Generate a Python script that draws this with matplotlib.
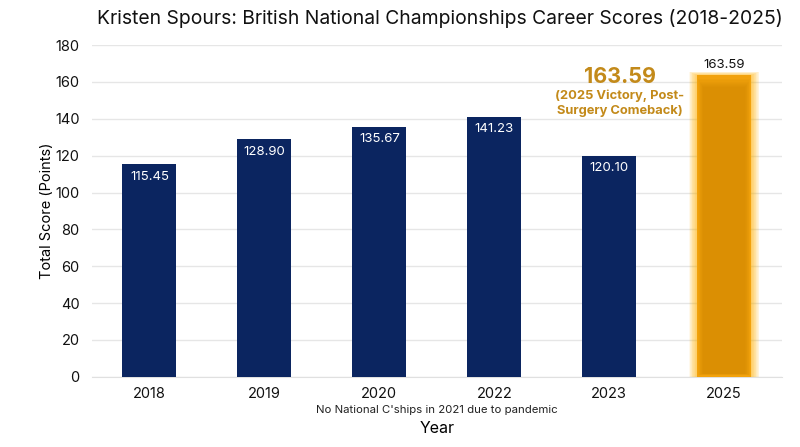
import numpy as np
import matplotlib.pyplot as plt

plt.rcParams['font.family'] = ['Inter', 'DejaVu Sans']

# data
years = ["2018", "2019", "2020", "2022", "2023", "2025"]
scores = [115.45, 128.90, 135.67, 141.23, 120.10, 163.59]
highlight_idx = 5

navy = "#0b2560"
gold = "#f2a20c"
gold_dark = "#cc8500"
gold_text = "#c38a1a"

fig = plt.figure(figsize=(8, 4.47), dpi=100)
ax = fig.add_axes([0.115, 0.157, 0.862, 0.742])

x = np.arange(len(years))
width = 0.47

# regular bars
for i, (xi, s) in enumerate(zip(x, scores)):
    if i == highlight_idx:
        continue
    ax.bar(xi, s, width=width, color=navy, zorder=3)
    ax.text(xi, s - 3.5, f"{s:.2f}", ha="center", va="top", color="white",
            fontsize=9.5, zorder=4)

# highlighted bar with soft glow
hx, hs = x[highlight_idx], scores[highlight_idx]
for k in np.linspace(0.14, 0.01, 12):
    ax.bar(hx, hs + k * 14, width=width + k, color="#ffb300",
           alpha=0.07, zorder=2, linewidth=0)
ax.bar(hx, hs, width=width, color=gold, zorder=3)
for k in np.linspace(0.02, 0.1, 8):
    ax.bar(hx, hs - 2 - k * 60, bottom=1 + k * 5, width=width - k,
           color=gold_dark, alpha=0.09, zorder=3, linewidth=0)
ax.text(hx, hs + 2.5, f"{hs:.2f}", ha="center", va="bottom", color="#111111",
        fontsize=9.5, zorder=4)

# annotation
ax.text(4.09, 162.5, f"{hs:.2f}", ha="center", va="center", color=gold_text,
        fontsize=15.5, fontweight="bold")
ax.text(4.09, 148.3, "(2025 Victory, Post-\nSurgery Comeback)", ha="center",
        va="center", color=gold_text, fontsize=9.3, fontweight="bold",
        linespacing=1.35)

ax.set_xlim(-0.5, 5.5)
ax.set_ylim(0, 180)
ax.set_yticks(np.arange(0, 181, 20))
ax.set_xticks(x)
ax.set_xticklabels(years)
ax.tick_params(axis="both", length=0, labelsize=10.5, colors="#111111")
ax.tick_params(axis="y", pad=9)
ax.tick_params(axis="x", pad=7)
ax.grid(axis="y", color="#e6e6e6", linewidth=1, zorder=0)
ax.set_axisbelow(True)
for sp in ["top", "right", "left"]:
    ax.spines[sp].set_visible(False)
ax.spines["bottom"].set_color("#e0e0e0")

ax.set_ylabel("Total Score (Points)", fontsize=10.5, labelpad=1)
ax.set_xlabel("Year", fontsize=11.5, labelpad=15)
fig.text(0.546, 0.083, "No National C'ships in 2021 due to pandemic",
         ha="center", va="center", fontsize=8.2, color="#222222")
fig.text(0.55, 0.958, "Kristen Spours: British National Championships Career Scores (2018-2025)",
         ha="center", va="center", fontsize=13.9, color="#111111")

fig.savefig("out.png", dpi=100)
